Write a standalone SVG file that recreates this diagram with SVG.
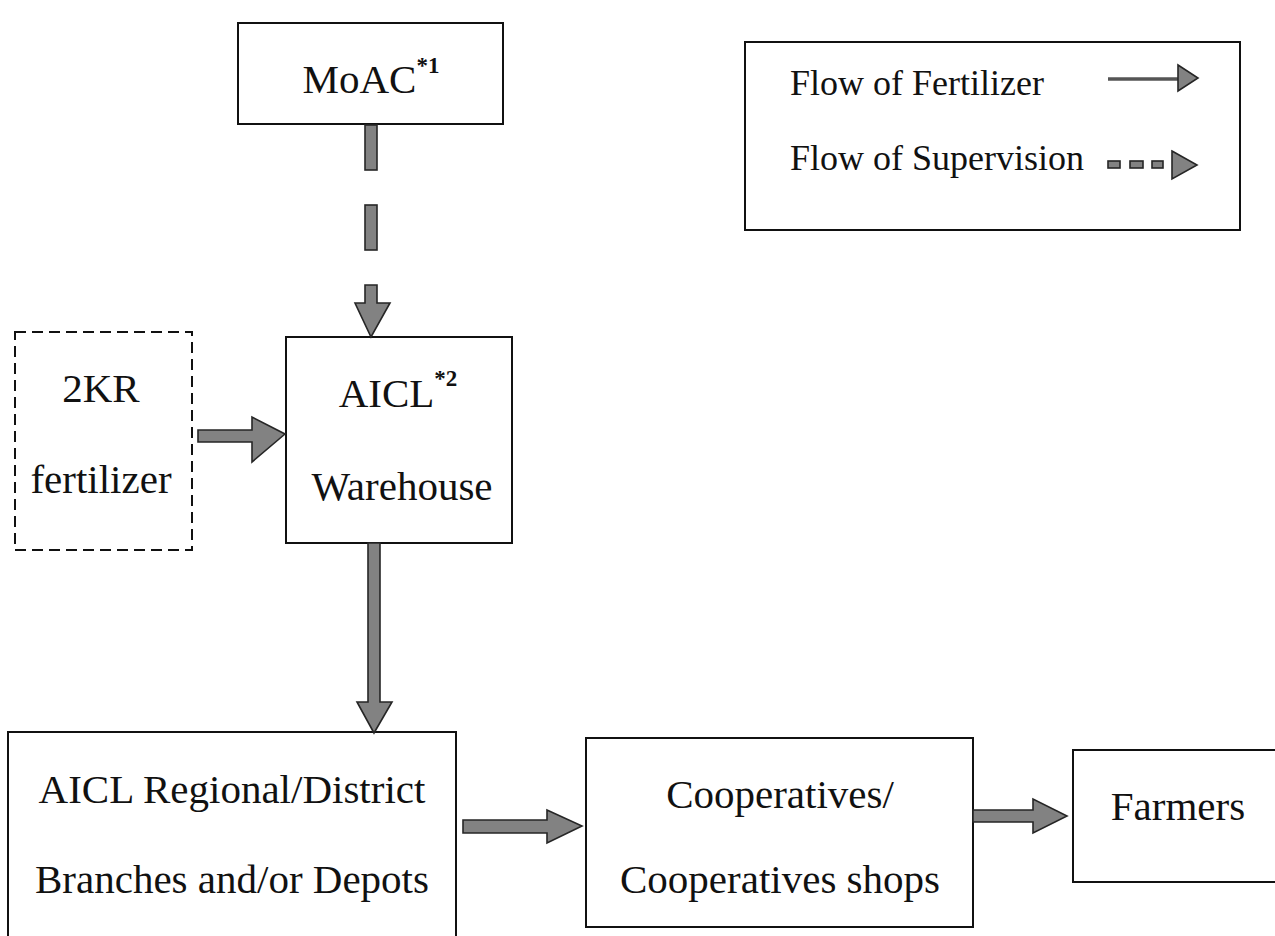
<svg xmlns="http://www.w3.org/2000/svg" width="1275" height="936" viewBox="0 0 1275 936">
<style>
.box{fill:#fff;stroke:#111;stroke-width:2}
.dbox{fill:#fff;stroke:#111;stroke-width:2;stroke-dasharray:11 6}
.t{font-family:"Liberation Serif","Times New Roman",serif;font-size:41px;fill:#111;text-anchor:middle}
.lt{font-family:"Liberation Serif","Times New Roman",serif;font-size:36px;fill:#111}
.sup{font-family:"Liberation Serif","Times New Roman",serif;font-size:23px;font-weight:bold;fill:#111}
.arr{fill:#828282;stroke:#262626;stroke-width:1.6;stroke-linejoin:miter}
</style>
<rect width="1275" height="936" fill="#fff"/>
<g id="moac">
<rect class="box" x="238" y="23" width="265" height="101"/>
<text class="t" x="371" y="93">MoAC<tspan class="sup" dy="-20">*1</tspan></text>
</g>
<g id="legend">
<rect class="box" x="745" y="42" width="495" height="188"/>
<text class="lt" x="790" y="95">Flow of Fertilizer</text>
<text class="lt" x="790" y="170">Flow of Supervision</text>
<line x1="1108" y1="79" x2="1180" y2="79" stroke="#555" stroke-width="3.5"/>
<path class="arr" d="M1178,65 L1198,78 L1178,91 Z"/>
<rect class="arr" x="1108" y="161" width="12" height="7"/>
<rect class="arr" x="1130" y="161" width="13" height="7"/>
<rect class="arr" x="1152" y="161" width="11" height="7"/>
<path class="arr" d="M1172,151 L1197,165 L1172,179 Z"/>
</g>
<g id="kr2">
<rect class="dbox" x="15" y="332" width="177" height="218"/>
<text class="t" x="101" y="402">2KR</text>
<text class="t" x="101" y="493">fertilizer</text>
</g>
<g id="aicl">
<rect class="box" x="286" y="337" width="226" height="206"/>
<text class="t" x="398" y="407">AICL<tspan class="sup" dy="-21">*2</tspan></text>
<text class="t" x="402" y="500">Warehouse</text>
</g>
<g id="regional">
<rect class="box" x="8" y="732" width="448" height="220"/>
<text class="t" x="232" y="803">AICL Regional/District</text>
<text class="t" x="232" y="893">Branches and/or Depots</text>
</g>
<g id="coop">
<rect class="box" x="586" y="738" width="387" height="189"/>
<text class="t" x="780" y="808">Cooperatives/</text>
<text class="t" x="780" y="893">Cooperatives shops</text>
</g>
<g id="farmers">
<rect class="box" x="1073" y="750" width="212" height="132"/>
<text class="t" x="1178" y="820">Farmers</text>
</g>
<g id="connectors">
<rect class="arr" x="365" y="125" width="12" height="45"/>
<rect class="arr" x="365" y="205" width="12" height="45"/>
<path class="arr" d="M365,285 L377,285 L377,303 L390,303 L371,337 L355,303 L365,303 Z"/>
<path class="arr" d="M198,430 L252,430 L252,417 L285,434 L252,462 L252,442 L198,442 Z"/>
<path class="arr" d="M368,543 L380,543 L380,702 L392,702 L374,733 L357,702 L368,702 Z"/>
<path class="arr" d="M463,820 L547,820 L547,810 L582,826 L547,843 L547,833 L463,833 Z"/>
<path class="arr" d="M973,810 L1033,810 L1033,799 L1067,816 L1033,833 L1033,822 L973,822 Z"/>
</g>
</svg>
